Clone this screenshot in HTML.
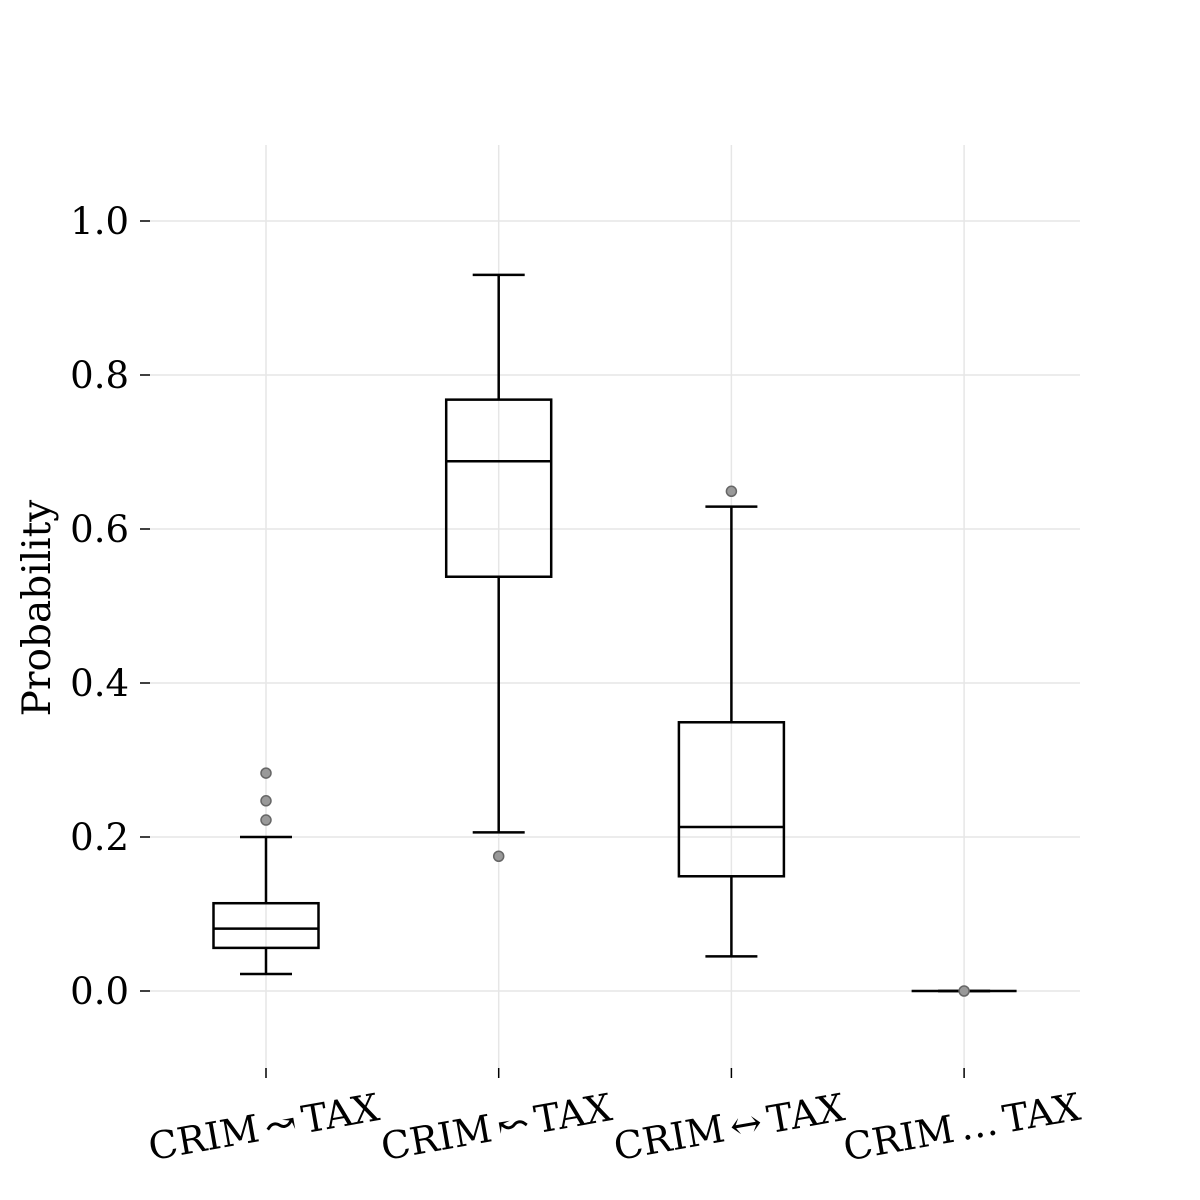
<!DOCTYPE html>
<html><head><meta charset="utf-8"><style>body{margin:0;background:#fff}svg{display:block}</style></head>
<body>
<svg id="chart" width="1200" height="1200" xmlns="http://www.w3.org/2000/svg" font-family="DejaVu Serif, Liberation Serif, serif"></svg>
<script>
const categories = ["CRIM \u219D TAX","CRIM \u219C TAX","CRIM \u2194 TAX","CRIM \u2026 TAX"];
const whiskerLow = [0.022, 0.206, 0.045, 0.0];
const q1Values = [0.056, 0.538, 0.149, 0.0];
const medianValues = [0.081, 0.688, 0.213, 0.0];
const q3Values = [0.114, 0.768, 0.349, 0.0];
const whiskerHigh = [0.200, 0.930, 0.629, 0.0];
const outliers = [[0.283, 0.247, 0.222], [0.175], [0.649], [0.0]];
const yTicks = [0, 0.2, 0.4, 0.6, 0.8, 1.0];
const yTickLabels = ["0.0","0.2","0.4","0.6","0.8","1.0"];

const svg = document.getElementById('chart');
const NS = 'http://www.w3.org/2000/svg';
const y = v => 991 - v * 770;
const x = i => 266 + i * 232.7;
function mk(tag, attrs, parent) {
  const e = document.createElementNS(NS, tag);
  for (const k in attrs) e.setAttribute(k, attrs[k]);
  (parent || svg).appendChild(e);
  return e;
}
yTicks.forEach((t, i) => {
  const g = mk('line', {x1:150, x2:1080, y1:y(t), y2:y(t), stroke:'#e6e6e6', 'stroke-width':1.5});
  
  
  const tk = mk('line', {x1:140, x2:150, y1:y(t), y2:y(t), stroke:'#000', 'stroke-width':1.5});
  
  
  const lb = mk('text', {x:129, y:y(t)+13, 'text-anchor':'end', 'font-size':37});
  lb.textContent = yTickLabels[i];
  
  
});
categories.forEach((c, i) => {
  const g = mk('line', {x1:x(i), x2:x(i), y1:145, y2:1070, stroke:'#e6e6e6', 'stroke-width':1.5});
  
  
  const tk = mk('line', {x1:x(i), x2:x(i), y1:1068, y2:1078, stroke:'#000', 'stroke-width':1.5});
  
  
  const lb = mk('text', {x:0, y:0, 'text-anchor':'middle', 'font-size':38, 'word-spacing':-6, transform:`translate(${x(i)},1140) rotate(-10)`});
  lb.textContent = c;
  
  
});
const yt = mk('text', {x:0, y:0, 'text-anchor':'middle', 'font-size':39, transform:'translate(50,608) rotate(-90)'});
yt.textContent = 'Probability';



categories.forEach((c, i) => {
  const g = mk('g', {stroke:'#000', 'stroke-width':2.5, fill:'none'});
  
  
  const cx = x(i), hw = 52.5, cw = 26;
  mk('line', {x1:cx, x2:cx, y1:y(q1Values[i]), y2:y(whiskerLow[i])}, g);
  mk('line', {x1:cx, x2:cx, y1:y(q3Values[i]), y2:y(whiskerHigh[i])}, g);
  mk('line', {x1:cx-cw, x2:cx+cw, y1:y(whiskerLow[i]), y2:y(whiskerLow[i])}, g);
  mk('line', {x1:cx-cw, x2:cx+cw, y1:y(whiskerHigh[i]), y2:y(whiskerHigh[i])}, g);
  mk('rect', {x:cx-hw, y:y(q3Values[i]), width:2*hw, height:y(q1Values[i])-y(q3Values[i])}, g);
  mk('line', {x1:cx-hw, x2:cx+hw, y1:y(medianValues[i]), y2:y(medianValues[i])}, g);
  outliers[i].forEach(o => {
    const p = mk('circle', {cx:cx, cy:y(o), r:5, fill:'#999', stroke:'#666', 'stroke-width':1.5});
    
    
  });
});
</script>
</body></html>
